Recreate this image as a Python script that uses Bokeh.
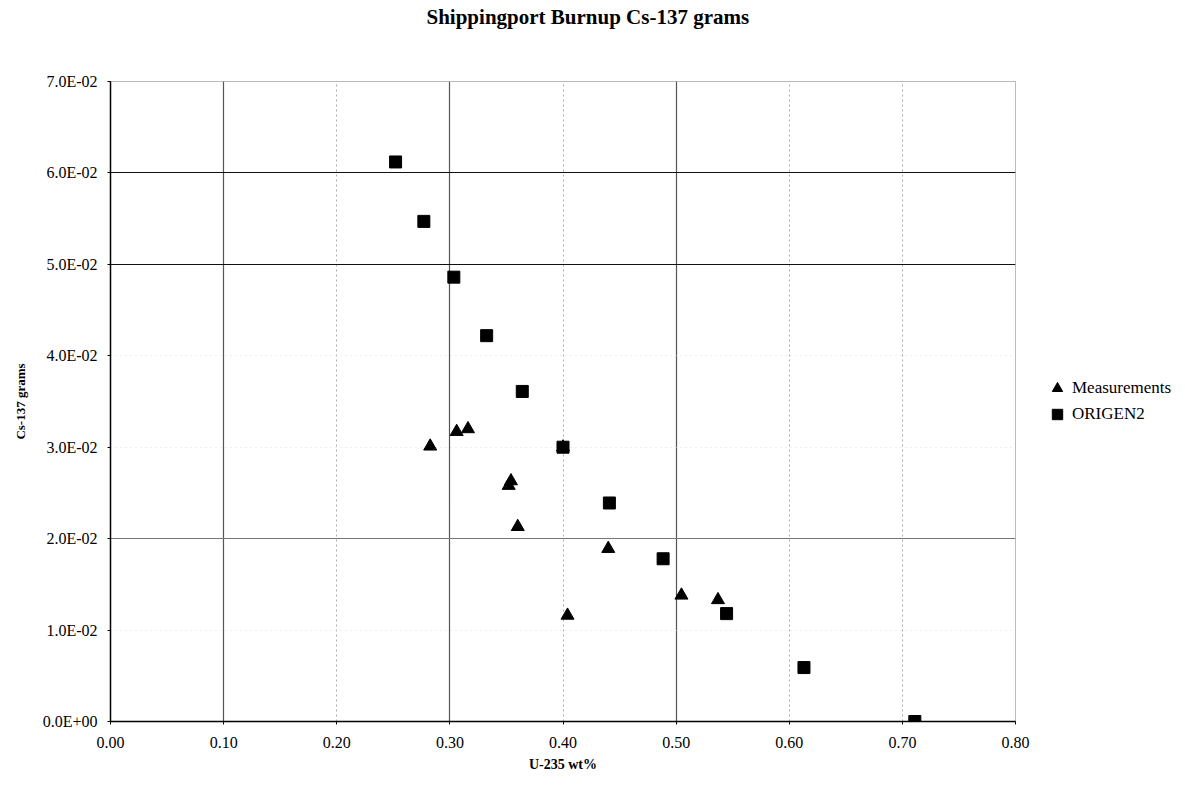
from bokeh.plotting import figure
from bokeh.models import (FixedTicker, Grid, Legend, LegendItem, Title,
                          CustomJSTickFormatter, PrintfTickFormatter, Range1d)
from bokeh.embed import file_html
from bokeh.resources import INLINE

# ---- data ----
u235_meas = [0.2826, 0.306, 0.316, 0.352, 0.354, 0.360, 0.400, 0.404, 0.440, 0.5047, 0.537]
cs_meas = [0.0301, 0.0317, 0.0320, 0.0258, 0.0263, 0.0213, 0.0300, 0.0116, 0.0189, 0.0138, 0.0133]

u235_origen = [0.252, 0.277, 0.3035, 0.3325, 0.364, 0.400, 0.441, 0.4885, 0.5446, 0.613, 0.711]
cs_origen = [0.0612, 0.0547, 0.0486, 0.0422, 0.0361, 0.0300, 0.0239, 0.0178, 0.0118, 0.0059, 0.0000]

x_ticks = [0.0, 0.1, 0.2, 0.3, 0.4, 0.5, 0.6, 0.7, 0.8]
y_ticks = [0.0, 0.01, 0.02, 0.03, 0.04, 0.05, 0.06, 0.07]
x_grid_strong = [0.1, 0.3, 0.5]
x_grid_faint = [0.2, 0.4, 0.6, 0.7]
y_grid_strong = [0.05, 0.06]
y_grid_mid = [0.02]
y_grid_faint = [0.01, 0.03, 0.04]

title_text = "Shippingport Burnup Cs-137 grams"
x_label = "U-235 wt%"
y_label = "Cs-137 grams"
series_names = ["Measurements", "ORIGEN2"]

FONT = "Liberation Serif"

p = figure(frame_width=905, frame_height=640, output_backend="svg", toolbar_location=None,
           x_range=Range1d(0, 0.8), y_range=Range1d(0, 0.07),
           min_border_left=110, min_border_right=170,
           min_border_top=81, min_border_bottom=72)
p.background_fill_color = "white"
p.border_fill_color = "white"
p.outline_line_color = "#777777"
p.outline_line_dash = "1 1"
p.outline_line_width = 1

# title (outermost) with a blank spacer between it and the plot area
p.title.text = title_text
p.title.text_font = FONT
p.title.text_font_style = "bold"
p.title.text_font_size = "21px"
p.title.align = "left"
p.title.offset = 316
p.title.standoff = 4
p.title.text_color = "black"
p.add_layout(Title(text=" ", text_font=FONT, text_font_size="12px", standoff=35), "above")

# grids
p.xgrid.visible = False
p.ygrid.visible = False
p.add_layout(Grid(dimension=0, ticker=FixedTicker(ticks=x_grid_faint),
                  grid_line_color="#aaaaaa", grid_line_dash="2 3", grid_line_width=1))
p.add_layout(Grid(dimension=0, ticker=FixedTicker(ticks=x_grid_strong),
                  grid_line_color="#555555", grid_line_width=1.2))
p.add_layout(Grid(dimension=1, ticker=FixedTicker(ticks=y_grid_faint),
                  grid_line_color="#dddddd", grid_line_dash="1 4", grid_line_width=1))
p.add_layout(Grid(dimension=1, ticker=FixedTicker(ticks=y_grid_mid),
                  grid_line_color="#777777", grid_line_width=1.2))
p.add_layout(Grid(dimension=1, ticker=FixedTicker(ticks=y_grid_strong),
                  grid_line_color="#111111", grid_line_width=1.2))

# axes
p.xaxis.ticker = FixedTicker(ticks=x_ticks)
p.yaxis.ticker = FixedTicker(ticks=y_ticks)
p.xaxis.formatter = PrintfTickFormatter(format="%.2f")
p.yaxis.formatter = CustomJSTickFormatter(code="""
var s = tick.toExponential(1); var parts = s.split('e');
var e = parseInt(parts[1]); var sign = e < 0 ? '-' : '+'; var a = Math.abs(e);
return parts[0] + 'E' + sign + (a < 10 ? '0' : '') + a;
""")
for ax in (p.xaxis[0], p.yaxis[0]):
    ax.axis_line_color = "black"
    ax.axis_line_width = 1.5
    ax.major_tick_line_color = "black"
    ax.minor_tick_line_color = None
    ax.major_tick_in = 0
    ax.major_tick_out = 3
    ax.major_label_text_font = FONT
    ax.major_label_text_font_size = "16px"
    ax.major_label_text_color = "black"
    ax.axis_label_text_font = FONT
    ax.axis_label_text_font_style = "bold"
    ax.axis_label_text_color = "black"
p.yaxis.major_label_standoff = 10
p.xaxis.major_label_standoff = 12

p.xaxis.axis_label = x_label
p.xaxis.axis_label_text_font_size = "14px"
p.xaxis.axis_label_standoff = 6
p.yaxis.axis_label = y_label
p.yaxis.axis_label_text_font_size = "13px"
p.yaxis.axis_label_standoff = 12

# markers
r_meas = p.scatter(u235_meas, cs_meas, marker="triangle", size=13,
                   fill_color="black", line_color="black")
r_orig = p.scatter(u235_origen, cs_origen, marker="square", size=12,
                   fill_color="black", line_color="black")

legend = Legend(items=[LegendItem(label=series_names[0], renderers=[r_meas]),
                       LegendItem(label=series_names[1], renderers=[r_orig])],
                location="center_left")
legend.border_line_color = None
legend.background_fill_alpha = 0
legend.label_text_font = FONT
legend.label_text_font_size = "17px"
legend.label_text_color = "black"
legend.glyph_width = 30
legend.glyph_height = 26
legend.label_height = 16
legend.spacing = 0
legend.label_standoff = 0
legend.padding = 2
legend.margin = 27
p.add_layout(legend, "right")

open("out.html", "w").write(file_html(p, INLINE))
